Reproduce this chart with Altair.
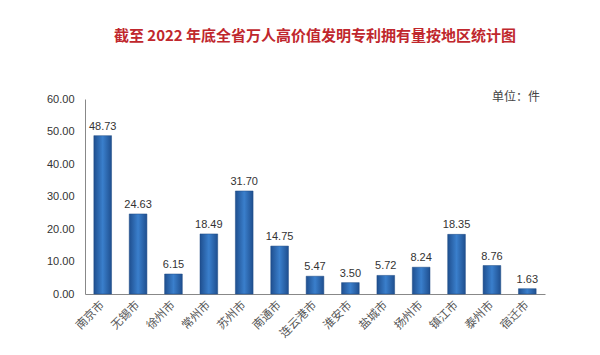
import altair as alt
import pandas as pd

cities = ["南京市", "无锡市", "徐州市", "常州市", "苏州市", "南通市", "连云港市",
          "淮安市", "盐城市", "扬州市", "镇江市", "泰州市", "宿迁市"]
values = [48.73, 24.63, 6.15, 18.49, 31.70, 14.75, 5.47, 3.50, 5.72, 8.24, 18.35, 8.76, 1.63]
y_ticks = [0, 10, 20, 30, 40, 50, 60]

df = pd.DataFrame({"city": cities, "value": values})

font = "Noto Sans CJK SC"

x = alt.X("city:N", sort=cities, title=None,
          scale=alt.Scale(paddingInner=0.5, paddingOuter=0.25),
          axis=alt.Axis(labelAngle=-45, labelAlign="right", labelBaseline="middle",
                        labelFont=font, labelFontSize=11.5, labelColor="#555555",
                        ticks=False, domainColor="#888888", labelPadding=9))
y = alt.Y("value:Q", title=None,
          scale=alt.Scale(domain=[0, 60]),
          axis=alt.Axis(values=y_ticks, format=".2f", grid=False, labelOverlap=False,
                        ticks=False, domainColor="#888888", labelColor="#333333",
                        labelFont="Liberation Sans", labelFontSize=11, labelPadding=11))

bars = alt.Chart(df).mark_bar(
    color=alt.Gradient(
        gradient="linear", x1=0, x2=1, y1=0, y2=0,
        stops=[alt.GradientStop(color="#1f4f8f", offset=0),
               alt.GradientStop(color="#3a7fcc", offset=0.5),
               alt.GradientStop(color="#1f4f8f", offset=1)]),
    stroke="#1d4a85", strokeWidth=0.5
).encode(x=x, y=y)

labels = alt.Chart(df).mark_text(
    dy=-9, font="Liberation Sans", fontSize=11, color="#333333"
).encode(x=x, y=y, text=alt.Text("value:Q", format=".2f"))

unit = alt.Chart(pd.DataFrame({"t": ["单位：件"]})).mark_text(
    font=font, fontSize=12, color="#444444", align="right", baseline="middle"
).encode(x=alt.value(455), y=alt.value(-2), text="t:N")

chart = alt.layer(bars, labels, unit).properties(
    width=460, height=195,
    title=alt.TitleParams("截至 2022 年底全省万人高价值发明专利拥有量按地区统计图",
                          font=font, fontSize=15, fontWeight="bold", color="#c0272d",
                          anchor="middle", offset=47),
    autosize=alt.AutoSizeParams(type="none"),
    padding={"left": 77, "top": 91, "right": 47, "bottom": 53},
).configure_view(stroke=None).configure_axis(labelOverlap=False)

chart.save("out.html", embed_options={"renderer": "svg", "actions": False})
